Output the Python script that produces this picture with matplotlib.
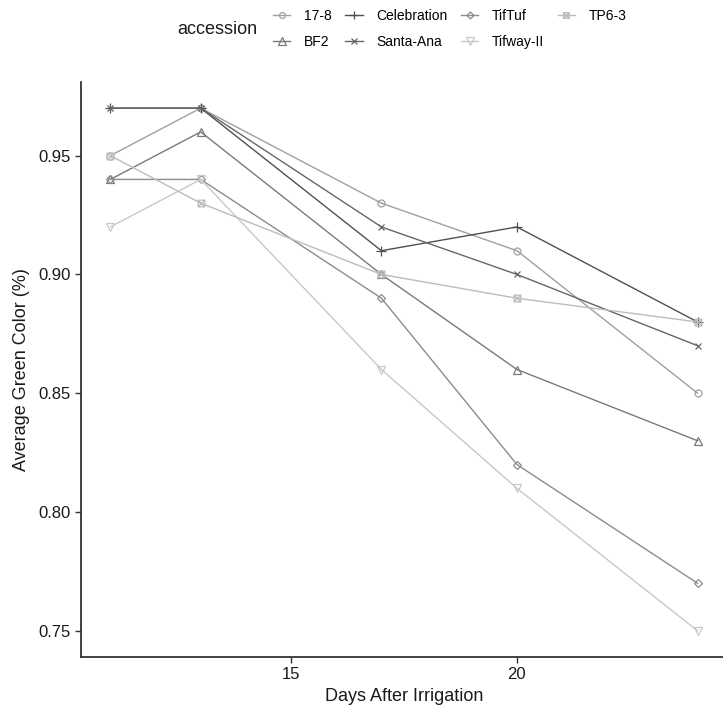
import matplotlib
matplotlib.use("Agg")
import matplotlib.pyplot as plt
from matplotlib.path import Path

plt.rcParams['font.family'] = ['Liberation Sans', 'DejaVu Sans']

# data
days = [11, 13, 17, 20, 24]
accessions = ["17-8", "BF2", "Celebration", "Santa-Ana", "TifTuf", "Tifway-II", "TP6-3"]
green_17_8 = [0.95, 0.97, 0.93, 0.91, 0.85]
green_bf2 = [0.94, 0.96, 0.90, 0.86, 0.83]
green_celebration = [0.97, 0.97, 0.91, 0.92, 0.88]
green_santa_ana = [0.97, 0.97, 0.92, 0.90, 0.87]
green_tiftuf = [0.94, 0.94, 0.89, 0.82, 0.77]
green_tifway = [0.92, 0.94, 0.86, 0.81, 0.75]
green_tp6_3 = [0.95, 0.93, 0.90, 0.89, 0.88]
series = [green_17_8, green_bf2, green_celebration, green_santa_ana,
          green_tiftuf, green_tifway, green_tp6_3]

# square with a cross inside (ggplot shape 7)
boxx = Path([(-1, -1), (1, -1), (1, 1), (-1, 1), (-1, -1), (-1, -1), (1, 1), (-1, 1), (1, -1)],
            [Path.MOVETO, Path.LINETO, Path.LINETO, Path.LINETO, Path.CLOSEPOLY,
             Path.MOVETO, Path.LINETO, Path.MOVETO, Path.LINETO])

colors = ["#a0a0a0", "#7a7a7a", "#505050", "#666666", "#8c8c8c", "#c8c8c8", "#bcbcbc"]
markers = ["o", "^", "+", "x", "D", "v", boxx]
msizes = [5, 6, 7, 5, 4.2, 6, 4.8]

fig = plt.figure(figsize=(7.23, 7.10), dpi=100)
ax = fig.add_axes([81 / 723, 53 / 710, 646 / 723, 575 / 710])

for name, vals, c, m, ms in zip(accessions, series, colors, markers, msizes):
    ax.plot(days, vals, color=c, lw=1.0, marker=m, ms=ms, mfc="none",
            mec=c, mew=0.9, label=name)

ax.set_xlim(10.35, 24.65)
ax.set_ylim(0.739, 0.981)
ax.set_xticks([15, 20])
ax.set_yticks([0.75, 0.80, 0.85, 0.90, 0.95])
ax.set_yticklabels(["0.75", "0.80", "0.85", "0.90", "0.95"])
ax.tick_params(labelsize=12, length=4, width=1, color="#333333", labelcolor="#1a1a1a")
for s in ["top", "right"]:
    ax.spines[s].set_visible(False)
for s in ["left", "bottom"]:
    ax.spines[s].set_linewidth(1.3)
    ax.spines[s].set_color("#333333")

ax.set_xlabel("Days After Irrigation", fontsize=13, color="#1a1a1a", labelpad=4)
ax.set_ylabel("Average Green Color (%)", fontsize=13, color="#1a1a1a", labelpad=6)

leg = fig.legend(ncol=4, loc="center left", bbox_to_anchor=(266 / 723, 1 - 29 / 710),
                 frameon=False, fontsize=10, handlelength=1.25, handletextpad=1.0,
                 columnspacing=0.95, labelspacing=0.85, borderpad=0, markerscale=0.85)
fig.text(177 / 723, 1 - 30 / 710, "accession", fontsize=13, va="center", ha="left",
         color="#1a1a1a")

fig.savefig("out.png", dpi=100)
